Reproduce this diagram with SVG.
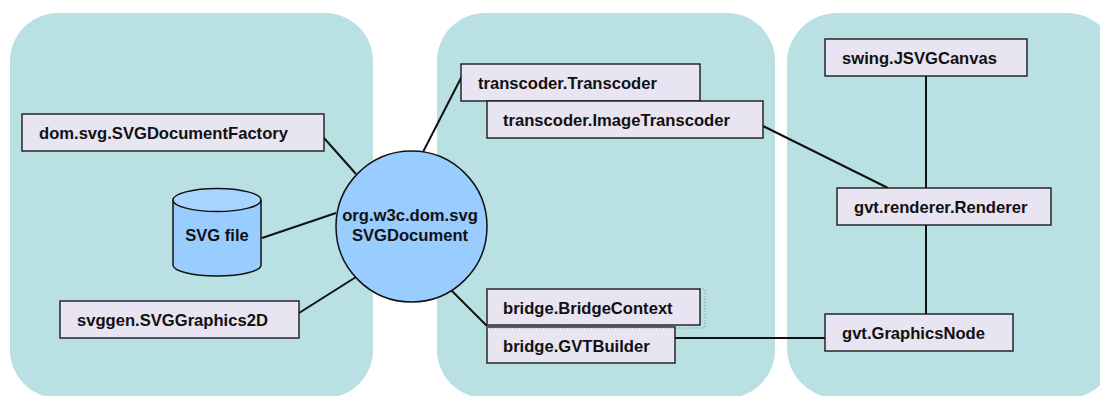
<svg xmlns="http://www.w3.org/2000/svg" width="1100" height="396" viewBox="0 0 1100 396">
  <style>
    .panel { fill: #b9e0e2; }
    .box { fill: #e8e4f2; stroke: #1a1a1a; stroke-width: 1.4; }
    .lbl { font-family: "Liberation Sans", Arial, sans-serif; font-weight: bold; font-size: 16.6px; fill: #111; }
    .mid { text-anchor: middle; }
    .edge { stroke: #111; stroke-width: 2; fill: none; }
    .blue { fill: #99ccff; stroke: #111; stroke-width: 1.5; }
    .dots { fill: none; stroke: #8a8a8a; stroke-width: 1; stroke-dasharray: 1 2; }
  </style>

  <rect width="1100" height="396" fill="#ffffff"/>

  <!-- background panels -->
  <g id="panels">
    <rect class="panel" x="10" y="13" width="363" height="385" rx="48" ry="48"/>
    <rect class="panel" x="437" y="13" width="338" height="385" rx="48" ry="48"/>
    <rect class="panel" x="787" y="13" width="330" height="385" rx="50" ry="50"/>
  </g>

  <!-- connectors -->
  <g id="connectors">
    <line class="edge" x1="324" y1="138" x2="356" y2="174"/>
    <line class="edge" x1="262" y1="238" x2="336" y2="213"/>
    <line class="edge" x1="299" y1="313" x2="356" y2="277"/>
    <line class="edge" x1="423" y1="152" x2="462" y2="76"/>
    <line class="edge" x1="451" y1="290" x2="487" y2="326"/>
    <line class="edge" x1="763" y1="126" x2="888" y2="188"/>
    <line class="edge" x1="675" y1="338" x2="825" y2="338"/>
    <line class="edge" x1="926" y1="76" x2="926" y2="188"/>
    <line class="edge" x1="926" y1="225" x2="926" y2="314"/>
  </g>

  <g id="svgDocumentFactory">
    <rect class="box" x="22" y="114" width="302" height="37"/>
    <text class="lbl" x="39" y="138.5">dom.svg.SVGDocumentFactory</text>
  </g>

  <g id="svgFile">
    <path class="blue" d="M173 200 L173 265 A44 11 0 0 0 261 265 L261 200"/>
    <ellipse cx="217" cy="200" rx="44" ry="11.5" fill="#a9d4ff" stroke="#111" stroke-width="1.5"/>
    <text class="lbl mid" x="217" y="241">SVG file</text>
  </g>

  <g id="svgGraphics2D">
    <rect class="box" x="60" y="301" width="239" height="37"/>
    <text class="lbl" x="77" y="325.5">svggen.SVGGraphics2D</text>
  </g>

  <g id="svgDocument">
    <circle class="blue" cx="411.5" cy="226.5" r="75.5"/>
    <text class="lbl mid" x="410" y="221">org.w3c.dom.svg</text>
    <text class="lbl mid" x="410" y="240.5">SVGDocument</text>
  </g>

  <g id="transcoder">
    <rect class="box" x="461" y="64" width="239" height="37"/>
    <text class="lbl" x="478" y="88.5">transcoder.Transcoder</text>
  </g>

  <g id="imageTranscoder">
    <rect class="box" x="487" y="101" width="276" height="37"/>
    <text class="lbl" x="503" y="125.5">transcoder.ImageTranscoder</text>
  </g>

  <g id="bridgeContext">
    <path class="dots" d="M700 289 L705 289 L705 328"/>
    <rect class="box" x="487" y="289" width="213" height="36"/>
    <text class="lbl" x="503" y="313.5">bridge.BridgeContext</text>
  </g>

  <g id="gvtBuilder">
    <rect class="box" x="487" y="327" width="188" height="36"/>
    <line class="dots" x1="487" y1="328" x2="705" y2="328"/>
    <text class="lbl" x="503" y="351.5">bridge.GVTBuilder</text>
  </g>

  <g id="jsvgCanvas">
    <rect class="box" x="825" y="39" width="202" height="37"/>
    <text class="lbl" x="842" y="63.5">swing.JSVGCanvas</text>
  </g>

  <g id="renderer">
    <rect class="box" x="837" y="188" width="214" height="37"/>
    <text class="lbl" x="854" y="212.5">gvt.renderer.Renderer</text>
  </g>

  <g id="graphicsNode">
    <rect class="box" x="825" y="314" width="188" height="37"/>
    <text class="lbl" x="842" y="338.5">gvt.GraphicsNode</text>
  </g>
</svg>
